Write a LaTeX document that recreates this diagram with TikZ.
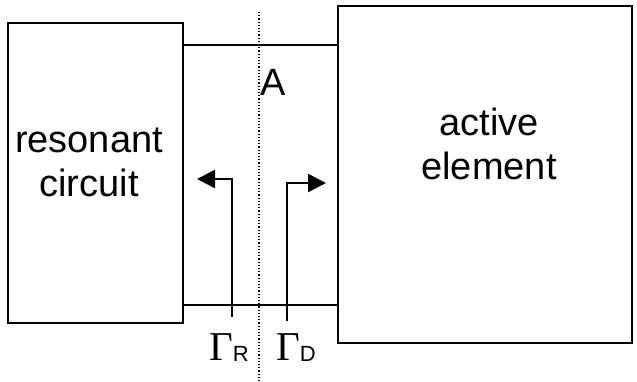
\documentclass[tikz,border=0pt]{standalone}
\usepackage{fontspec}
\setmainfont{Liberation Sans}
\newfontfamily\gammafont{Liberation Serif}
\usetikzlibrary{arrows.meta}
\tikzset{
	block/.style={draw, line width=2.5pt, inner sep=0pt},
	wire/.style={line width=2.5pt},
	refl/.style={line width=2.4pt, -{Triangle[length=18pt, width=18pt]}},
	big/.style={font=\fontsize{38}{44}\selectfont, align=center},
	gam/.style={font=\fontsize{41}{41}\gammafont, anchor=base west, inner sep=0pt}
}
\begin{document}
\begin{tikzpicture}[x=1pt, y=-1pt]
	\useasboundingbox (0, 0) rectangle (637, 381);
	\node[block, minimum width=175pt, minimum height=300pt] (rc) at (95.5, 173) {};
	\node[block, minimum width=294pt, minimum height=337pt] (ae) at (485, 174.5) {};
	\node[big] (rctext) at (89, 162) {resonant\\circuit};
	\node[big] (aetext) at (489, 144) {active\\element};
	\coordinate (top) at (0, 45);
	\coordinate (bot) at (0, 305);
	\draw[wire] (rc.east |- top) -- (ae.west |- top);
	\draw[wire] (rc.east |- bot) -- (ae.west |- bot);
	\coordinate (dtop) at (259, 12);
	\coordinate (dbot) at (259, 381);
	\draw[line width=1.2pt, dotted] (dtop) -- (dbot);
	\node[big] (plane) at (273, 82) {A};
	\coordinate (rfoot) at (232, 317);
	\coordinate (rtip) at (197, 179);
	\coordinate (dfoot) at (287, 321);
	\coordinate (dtip) at (326, 183);
	\draw[refl] (rfoot) |- (rtip);
	\draw[refl] (dfoot) |- (dtip);
	\node[gam] (gr) at (209, 360) {Γ\raisebox{-1pt}{\fontsize{22}{22}\fontfamily{\familydefault}\selectfont R}};
	\node[gam] (gd) at (276, 360) {Γ\raisebox{-1pt}{\fontsize{22}{22}\fontfamily{\familydefault}\selectfont D}};
\end{tikzpicture}
\end{document}
